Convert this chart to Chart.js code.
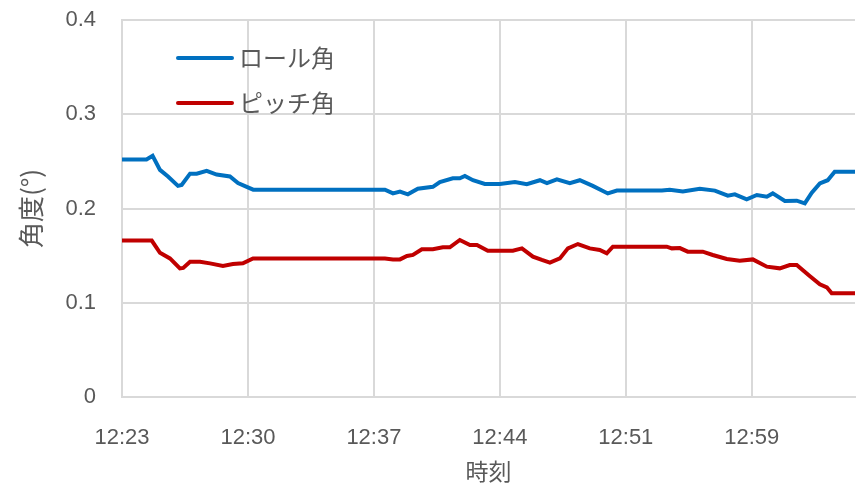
<!DOCTYPE html>
<html>
<head>
<meta charset="utf-8">
<script src="https://cdn.jsdelivr.net/npm/chart.js@4.4.1/dist/chart.umd.min.js"></script>
<style>
    body { margin: 0; background: #fff; }
    #wrap { width: 861px; height: 489px; }
</style>
</head>
<body>
<div id="wrap"><canvas id="angle-chart" width="861" height="489"></canvas></div>
<script>
// minutes since 12:23, one tick label every 7.2 minutes
const tickStep = 7.2;
const tickLabels = ['12:23', '12:30', '12:37', '12:44', '12:51', '12:59'];
const xMax = 41.9;

const rollMinutes = [0, 1.4, 1.75, 2.17, 2.63, 3.2, 3.41, 3.89, 4.27, 4.84, 5.41, 6.17, 6.63, 7.13, 7.5,
    15.03, 15.49, 15.89, 16.34, 16.91, 17.77, 18.17, 18.91, 19.31, 19.6, 20.06, 20.74, 21.6, 22.46, 23.14,
    23.89, 24.29, 24.86, 25.6, 26.17, 26.91, 27.77, 28.29, 30.86, 31.31, 32.06, 33.03, 33.89, 34.63, 35.03,
    35.71, 36.29, 36.86, 37.2, 37.89, 38.57, 39.03, 39.43, 39.89, 40.34, 40.74, 41.9];
const rollValues = [0.252, 0.252, 0.256, 0.241, 0.234, 0.224, 0.225, 0.237, 0.237, 0.240, 0.236, 0.234, 0.227, 0.223, 0.220,
    0.220, 0.216, 0.218, 0.215, 0.221, 0.223, 0.228, 0.232, 0.232, 0.2345, 0.230, 0.226, 0.226, 0.228, 0.2257,
    0.230, 0.227, 0.231, 0.227, 0.230, 0.224, 0.216, 0.219, 0.219, 0.220, 0.218, 0.221, 0.219, 0.2136, 0.215,
    0.2097, 0.2143, 0.2125, 0.216, 0.208, 0.2083, 0.2055, 0.2168, 0.2267, 0.230, 0.239, 0.239];

const pitchMinutes = [0, 1.7, 2.17, 2.74, 3.31, 3.5, 3.89, 4.46, 5.03, 5.77, 6.34, 6.91, 7.49,
    15.03, 15.49, 15.89, 16.29, 16.63, 17.14, 17.77, 18.34, 18.74, 19.31, 19.89, 20.29, 20.91, 22.34, 22.86,
    23.49, 24.0, 24.46, 25.03, 25.49, 26.06, 26.74, 27.31, 27.71, 28.06, 31.14, 31.43, 31.89, 32.34, 33.2,
    33.77, 34.57, 35.31, 36.06, 36.86, 37.6, 38.17, 38.57, 39.31, 39.89, 40.29, 40.57, 41.9];
const pitchValues = [0.166, 0.166, 0.153, 0.147, 0.1365, 0.137, 0.1436, 0.1436, 0.1418, 0.139, 0.141, 0.1418, 0.147,
    0.147, 0.146, 0.146, 0.1496, 0.1507, 0.1567, 0.1567, 0.1588, 0.1588, 0.1666, 0.1613, 0.1613, 0.1552, 0.1552, 0.1577,
    0.1489, 0.1454, 0.1425, 0.147, 0.1577, 0.1623, 0.1577, 0.156, 0.1524, 0.1595, 0.1595, 0.1577, 0.158, 0.1542, 0.1542,
    0.1507, 0.1464, 0.1446, 0.146, 0.1383, 0.1365, 0.140, 0.140, 0.1284, 0.1196, 0.1164, 0.110, 0.110];

const seriesNames = ['ロール角', 'ピッチ角'];
const seriesColors = ['#0070C0', '#C00000'];

const textColor = '#595959';
const gridColor = '#d9d9d9';
const numFont = "'Liberation Sans', 'DejaVu Sans', sans-serif";
const jpFont = "'Noto Sans CJK JP', sans-serif";

function toPoints(xs, ys) {
    return xs.map((x, i) => ({ x: x, y: ys[i] }));
}

// legend drawn inside the plot, upper left
const insideLegend = {
    id: 'insideLegend',
    afterDatasetsDraw(chart) {
        let ctx = chart.ctx;
        ctx.save();
        chart.data.datasets.forEach((ds, i) => {
            let y = 58 + i * 45;
            ctx.strokeStyle = ds.borderColor;
            ctx.lineWidth = 4;
            ctx.lineCap = 'round';
            ctx.beginPath();
            ctx.moveTo(178, y);
            ctx.lineTo(232, y);
            ctx.stroke();
            ctx.fillStyle = textColor;
            ctx.font = '24px ' + jpFont;
            ctx.textBaseline = 'middle';
            ctx.fillText(ds.label, 239, y);
        });
        ctx.restore();
    }
};

new Chart(document.getElementById('angle-chart').getContext('2d'), {
    type: 'line',
    data: {
        datasets: [{
            label: seriesNames[0],
            data: toPoints(rollMinutes, rollValues),
            borderColor: seriesColors[0],
            borderWidth: 4,
            pointRadius: 0,
            tension: 0
        }, {
            label: seriesNames[1],
            data: toPoints(pitchMinutes, pitchValues),
            borderColor: seriesColors[1],
            borderWidth: 4,
            pointRadius: 0,
            tension: 0
        }]
    },
    options: {
        responsive: false,
        animation: false,
        layout: { padding: { top: 20, right: 6, left: 0, bottom: 0 } },
        plugins: {
            legend: { display: false },
            tooltip: { enabled: false }
        },
        scales: {
            x: {
                type: 'linear',
                min: 0,
                max: xMax,
                afterBuildTicks: function (axis) {
                    axis.ticks = tickLabels.map((t, i) => ({ value: i * tickStep }));
                },
                afterFit: function (axis) {
                    axis.height = 92;
                    axis.paddingLeft = 0;
                    axis.paddingRight = 0;
                },
                grid: { color: gridColor, lineWidth: 2, drawTicks: false },
                border: { color: gridColor, width: 2 },
                ticks: {
                    color: textColor,
                    font: { family: numFont, size: 22 },
                    padding: 28,
                    maxRotation: 0,
                    callback: function (value) {
                        return tickLabels[Math.round(value / tickStep)];
                    }
                },
                title: {
                    display: true,
                    text: '時刻',
                    color: textColor,
                    font: { family: jpFont, size: 23 },
                    padding: { top: 0 }
                }
            },
            y: {
                min: 0,
                max: 0.4,
                afterFit: function (axis) {
                    axis.width = 122;
                    axis.paddingTop = 0;
                    axis.paddingBottom = 0;
                },
                grid: { color: gridColor, lineWidth: 2, drawTicks: false },
                border: { color: gridColor, width: 2 },
                ticks: {
                    stepSize: 0.1,
                    color: textColor,
                    font: { family: numFont, size: 22 },
                    padding: 26
                },
                title: {
                    display: true,
                    text: '角度(°)',
                    color: textColor,
                    font: { family: jpFont, size: 26 },
                    padding: { top: 16, bottom: 0 }
                }
            }
        }
    },
    plugins: [insideLegend]
});
</script>
</body>
</html>
